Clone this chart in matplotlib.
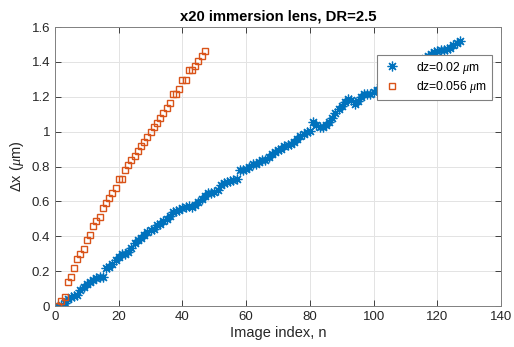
import matplotlib
matplotlib.use("Agg")
import matplotlib.pyplot as plt
from matplotlib.ticker import FuncFormatter

# displacement per image for the two z-steps
dx_fine = [
    0.000, 0.005, 0.020, 0.040, 0.052, 0.055, 0.062, 0.090, 0.108, 0.125,
    0.138, 0.152, 0.162, 0.166, 0.168, 0.216, 0.226, 0.244, 0.264, 0.283,
    0.297, 0.299, 0.308, 0.335, 0.362, 0.380, 0.393, 0.405, 0.424, 0.434,
    0.444, 0.462, 0.473, 0.487, 0.500, 0.518, 0.537, 0.545, 0.549, 0.560,
    0.570, 0.573, 0.570, 0.582, 0.598, 0.615, 0.630, 0.648, 0.650, 0.652,
    0.664, 0.695, 0.708, 0.712, 0.718, 0.725, 0.731, 0.780, 0.783, 0.784,
    0.798, 0.812, 0.814, 0.828, 0.838, 0.840, 0.852, 0.870, 0.885, 0.895,
    0.900, 0.918, 0.922, 0.930, 0.942, 0.960, 0.974, 0.988, 1.000, 1.006,
    1.055, 1.040, 1.025, 1.027, 1.040, 1.055, 1.080, 1.105, 1.128, 1.150,
    1.168, 1.190, 1.180, 1.160, 1.175, 1.200, 1.214, 1.216, 1.217, 1.226,
    1.240, 1.256, 1.268, 1.285, 1.295, 1.305, 1.318, 1.330, 1.340, 1.352,
    1.362, 1.375, 1.385, 1.398, 1.410, 1.420, 1.432, 1.445, 1.455, 1.464,
    1.468, 1.470, 1.472, 1.480, 1.495, 1.508, 1.520,
]
dx_coarse = [
    0.000, 0.029, 0.053, 0.136, 0.164, 0.218, 0.271, 0.296, 0.325, 0.378,
    0.405, 0.458, 0.485, 0.512, 0.565, 0.592, 0.619, 0.647, 0.676, 0.728,
    0.728, 0.781, 0.810, 0.837, 0.863, 0.890, 0.917, 0.943, 0.972, 0.999,
    1.026, 1.052, 1.079, 1.106, 1.137, 1.163, 1.217, 1.217, 1.242, 1.298,
    1.298, 1.351, 1.351, 1.379, 1.406, 1.433, 1.460,
]
n_fine = list(range(1, len(dx_fine) + 1))
n_coarse = list(range(1, len(dx_coarse) + 1))

labels = [r"dz=0.02 $\mu$m", r"dz=0.056 $\mu$m"]
xticks = [0, 20, 40, 60, 80, 100, 120, 140]
yticks = [0, 0.2, 0.4, 0.6, 0.8, 1.0, 1.2, 1.4, 1.6]

plt.rcParams['font.family'] = ['Liberation Sans', 'DejaVu Sans']
plt.rcParams['mathtext.fontset'] = 'custom'
plt.rcParams['mathtext.it'] = 'Liberation Serif:italic'
plt.rcParams['mathtext.rm'] = 'Liberation Sans'

fig = plt.figure(figsize=(5.14, 3.47), dpi=100)
ax = fig.add_axes([0.107, 0.118, 0.868, 0.804])

edge = '#262626'
# 8-armed asterisk (plus and cross together)
ax.plot(n_fine, dx_fine, linestyle='none', marker=(8, 2, 0), markersize=7,
        color='#0072BD', markeredgewidth=0.9, label=labels[0])
ax.plot(n_coarse, dx_coarse, linestyle='none', marker='s', markersize=5,
        markerfacecolor='none', markeredgecolor='#D95319',
        markeredgewidth=1.0, label=labels[1])

ax.set_xlim(0, 140)
ax.set_ylim(0, 1.6)
ax.set_xticks(xticks)
ax.set_yticks(yticks)
ax.yaxis.set_major_formatter(FuncFormatter(lambda v, p: '%g' % v))
ax.grid(True, color='#e3e3e3', linewidth=0.7)
ax.set_axisbelow(True)
ax.tick_params(direction='in', top=True, right=True, length=4,
               labelsize=9.5, colors=edge, width=0.6)
for s in ax.spines.values():
    s.set_color('#808080')
    s.set_linewidth(0.7)

ax.set_xlabel('Image index, n', fontsize=10.5, color=edge, labelpad=2)
ax.set_ylabel(r'$\Delta$x ($\mu$m)', fontsize=10.5, color=edge, labelpad=4)
ax.set_title('x20 immersion lens, DR=2.5', fontsize=10.7, fontweight='bold',
             color='black', pad=5)

leg = ax.legend(loc='upper right', bbox_to_anchor=(0.992, 0.922),
                fontsize=8.7, frameon=True, fancybox=False,
                edgecolor='#808080', framealpha=1, borderpad=0.4,
                handlelength=1.6, handletextpad=1.2, labelspacing=0.3)
leg.get_frame().set_linewidth(0.8)

fig.savefig('out.png', dpi=100)
